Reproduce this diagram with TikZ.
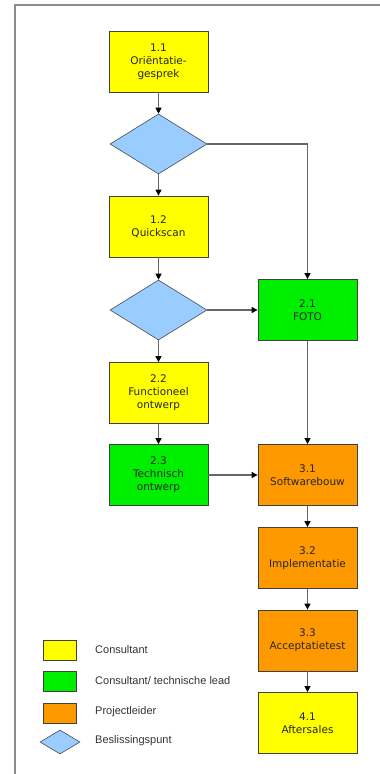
\documentclass[tikz,border=0pt]{standalone}
\usepackage{fontspec}
\setmainfont{DejaVu Sans}
\newfontfamily\legendfont{Liberation Sans}
\usetikzlibrary{shapes.geometric,arrows.meta}
\definecolor{boxyellow}{HTML}{FFFF00}
\definecolor{boxgreen}{HTML}{00EE00}
\definecolor{boxorange}{HTML}{FF9900}
\definecolor{pointblue}{HTML}{99CCFF}
\begin{document}
\begin{tikzpicture}
                [x=1pt, y=-1pt,
                 stap/.style={rectangle, draw=black!75, line width=0.8pt, minimum width=99pt, minimum height=61pt, inner sep=1pt, align=center, font=\fontsize{10.5}{13}\selectfont, text=black!85},
                 punt/.style={diamond, draw=black!70, line width=0.6pt, fill=pointblue, minimum width=97pt, minimum height=60pt, inner sep=0pt},
                 sleutel/.style={rectangle, draw=black!75, line width=0.8pt, minimum width=33pt, minimum height=20pt, inner sep=0pt},
                 uitleg/.style={anchor=west, font=\legendfont\fontsize{11}{13}\selectfont, text=black!80, inner sep=0pt},
                 pijl/.style={draw=black!60, line width=1.1pt, -{Triangle[width=6pt,length=6pt,color=black]}}]
                \useasboundingbox (0,0) rectangle (380,774);
                % Define frame
                \draw[black!45, line width=1.5pt] (15,774) -- (15,5) -- (380,5);
                % Define nodes
                \node[stap, fill=boxyellow] (S11) at (158.5,61.5) {1.1\\Oriëntatie-\\gesprek};
                \node[punt] (P1) at (158.5,144) {};
                \node[stap, fill=boxyellow] (S12) at (158.5,226.5) {1.2\\Quickscan};
                \node[punt] (P2) at (158.5,310) {};
                \node[stap, fill=boxgreen] (S21) at (307.5,310) {2.1\\FOTO};
                \node[stap, fill=boxyellow] (S22) at (158.5,393) {2.2\\Functioneel\\ontwerp};
                \node[stap, fill=boxgreen] (S23) at (158.5,475) {2.3\\Technisch\\ontwerp};
                \node[stap, fill=boxorange] (S31) at (307.5,475) {3.1\\Softwarebouw};
                \node[stap, fill=boxorange] (S32) at (307.5,558) {3.2\\Implementatie};
                \node[stap, fill=boxorange] (S33) at (307.5,640.5) {3.3\\Acceptatietest};
                \node[stap, fill=boxyellow] (S41) at (307.5,723) {4.1\\Aftersales};
                % Define legend
                \node[sleutel, fill=boxyellow] (L1) at (59.5,650.5) {};
                \node[sleutel, fill=boxgreen] (L2) at (59.5,681) {};
                \node[sleutel, fill=boxorange] (L3) at (59.5,713) {};
                \node[punt, minimum width=40pt, minimum height=24pt] (L4) at (60,742) {};
                \node[uitleg] (T1) at (95,649.5) {Consultant};
                \node[uitleg] (T2) at (95,680.5) {Consultant/ technische lead};
                \node[uitleg] (T3) at (95,712) {Projectleider};
                \node[uitleg] (T4) at (95,741) {Beslissingspunt};
                % Define edges
                \draw[pijl] (S11) -- (P1);
                \draw[pijl] (P1) -- (S12);
                \draw[pijl] (P1.east) -| (S21.north);
                \draw[pijl] (S12) -- (P2);
                \draw[pijl] (P2) -- (S21);
                \draw[pijl] (P2) -- (S22);
                \draw[pijl] (S22) -- (S23);
                \draw[pijl] (S23) -- (S31);
                \draw[pijl] (S21) -- (S31);
                \draw[pijl] (S31) -- (S32);
                \draw[pijl] (S32) -- (S33);
                \draw[pijl] (S33) -- (S41);
            \end{tikzpicture}
\end{document}
